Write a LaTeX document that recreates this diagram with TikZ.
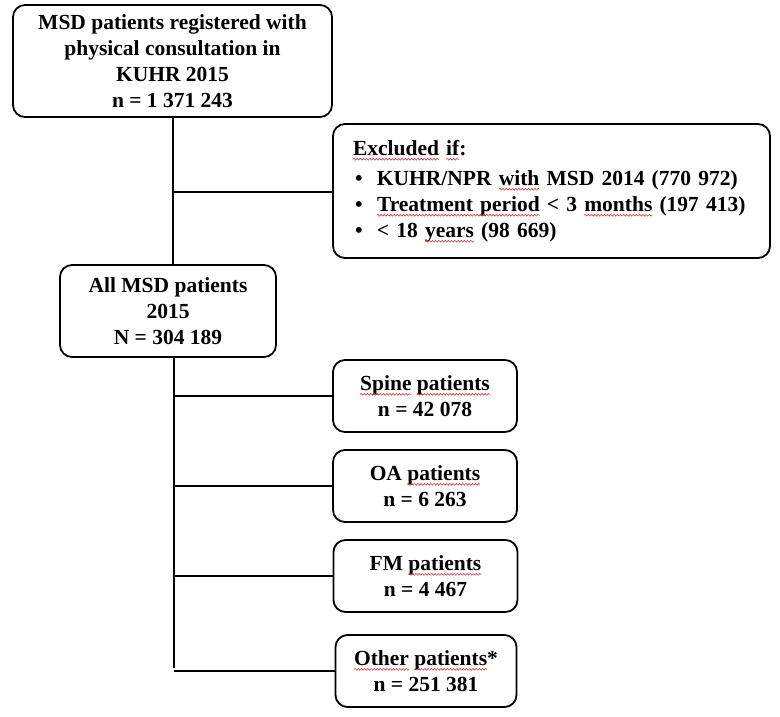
\documentclass[tikz,border=0pt]{standalone}
\usepackage{fontspec}
\setmainfont{Liberation Serif}
\usetikzlibrary{decorations.pathmorphing}
\definecolor{squig}{RGB}{215,60,60}
\newcommand\fs{\bfseries\fontsize{21.5}{26}\selectfont}
\newsavebox\sqbox
\newcommand\sq[1]{\sbox\sqbox{#1}\rlap{\usebox\sqbox}\tikz[baseline=0pt]{\useasboundingbox (0pt,0pt) rectangle (\wd\sqbox,0pt);
  \draw[squig,line width=0.6pt,sharp corners,decorate,decoration={snake,amplitude=0.9pt,segment length=3.2pt}] (0pt,-4pt) -- (\wd\sqbox,-4pt);}}
\newcommand\bul{\makebox[24pt][l]{\hspace{2pt}\textbullet}}
\begin{document}
\begin{tikzpicture}[x=1pt,y=-1pt,
  box/.style={draw, line width=1.8pt, rounded corners=12pt, align=center, inner sep=0pt, font=\fs},
  smallbox/.style={box, minimum width=184pt, minimum height=72pt},
  conn/.style={line width=1.8pt}]
\useasboundingbox (0,0) rectangle (780,716);
\node[box, minimum width=319pt, minimum height=112pt] (reg) at (172.5,61)
  {MSD patients registered with\\physical consultation in\\KUHR 2015\\n = 1 371 243};
\node[box, minimum width=437pt, minimum height=134pt, align=left, text width=397pt] (excl) at (551.5,191)
  {\sq{Excluded} \sq{if}:\\[4pt]
   \bul KUHR/NPR \sq{with} MSD 2014 (770 972)\\
   \bul \sq{Treatment period} < 3 \sq{months} (197 413)\\
   \bul < 18 \sq{years} (98 669)};
\node[box, minimum width=216pt, minimum height=92pt] (all) at (168,311)
  {All MSD patients\\2015\\N = 304 189};
\node[smallbox] (spine) at (425,396) {\sq{Spine} \sq{patients}\\n = 42 078};
\node[smallbox] (oa) at (425,486) {OA \sq{patients}\\n = 6 263};
\node[smallbox] (fm) at (425.5,576) {FM \sq{patients}\\n = 4 467};
\node[smallbox, minimum width=181pt] (other) at (426,671) {\sq{Other} \sq{patients}*\\n = 251 381};
\coordinate (t1) at (173,192);
\coordinate (t2) at (174,668);
\draw[conn] (reg.south -| t1) -- (all.north -| t1);
\draw[conn] (t1) -- (t1 -| excl.west);
\draw[conn] (all.south -| t2) -- (t2);
\draw[conn] (spine.west -| t2) -- (spine.west);
\draw[conn] (oa.west -| t2) -- (oa.west);
\draw[conn] (fm.west -| t2) -- (fm.west);
\draw[conn] (other.west -| t2) -- (other.west);
\end{tikzpicture}
\end{document}
